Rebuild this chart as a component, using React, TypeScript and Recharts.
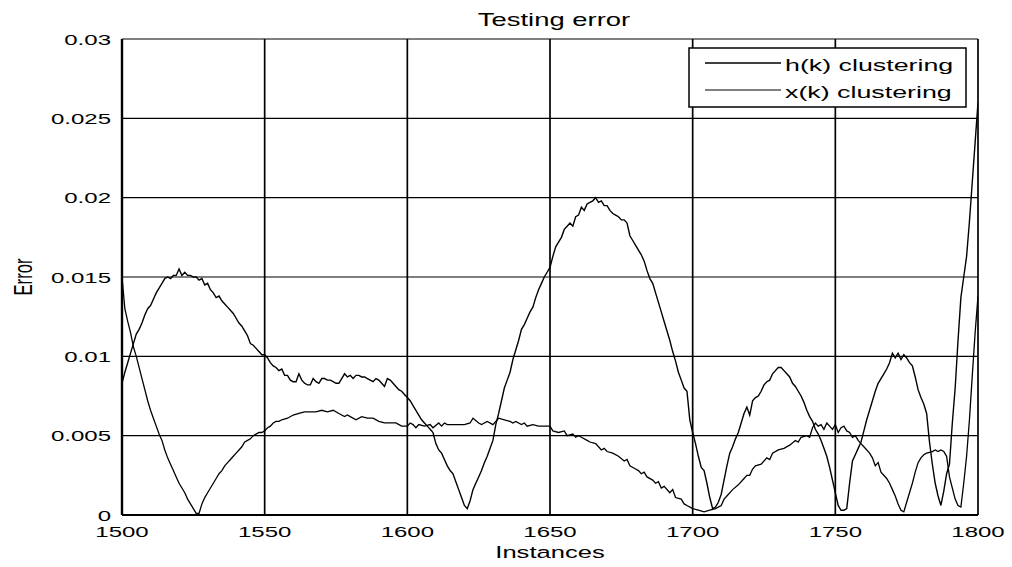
import React from 'react';
import { LineChart, Line, XAxis, YAxis, CartesianGrid, Legend } from 'recharts';

// horizontal stretch of the original figure's text
const SX = 1.55;
const FONT = '"Liberation Sans", Arial, Helvetica, sans-serif';

const instanceTicks = [1500, 1550, 1600, 1650, 1700, 1750, 1800];
const errorTicks = [0, 0.005, 0.01, 0.015, 0.02, 0.025, 0.03];
const seriesNames = ['h(k) clustering', 'x(k) clustering'];

// h(k): one value per instance, starting at 1500
const hStart = 1500;
const hErrors = [
  0.0083, 0.009, 0.0096, 0.0102, 0.0108, 0.0114, 0.0117, 0.0121, 0.0126, 0.013,
  0.0132, 0.0136, 0.014, 0.0143, 0.0146, 0.0149, 0.015, 0.0149, 0.0151, 0.0151,
  0.0155, 0.0151, 0.0153, 0.0151, 0.0151, 0.015, 0.015, 0.0148, 0.0149, 0.0145,
  0.0146, 0.0142, 0.014, 0.0137, 0.0138, 0.0135, 0.0133, 0.0131, 0.0129, 0.0127,
  0.0124, 0.0121, 0.0119, 0.0116, 0.0113, 0.0108, 0.0107, 0.0105, 0.0103, 0.0101,
  0.0101, 0.0099, 0.0096, 0.0094, 0.0093, 0.0091, 0.0092, 0.0088, 0.0088, 0.0085,
  0.0084, 0.0084, 0.0089, 0.0085, 0.0083, 0.0082, 0.0082, 0.0086, 0.0084, 0.0083,
  0.0086, 0.0086, 0.0085, 0.0085, 0.0084, 0.0083, 0.0083, 0.0086, 0.0089, 0.0087,
  0.0088, 0.0086, 0.0088, 0.0088, 0.0087, 0.0087, 0.0086, 0.0085, 0.0084, 0.0086,
  0.0085, 0.0083, 0.0081, 0.0086, 0.0085, 0.0083, 0.0081, 0.0079, 0.0078, 0.0076,
  0.0074, 0.0072, 0.0069, 0.0066, 0.0063, 0.006, 0.0058, 0.0056, 0.0054, 0.0052,
  0.0045, 0.0041, 0.0039, 0.0035, 0.0031, 0.0028, 0.0026, 0.0021, 0.0016, 0.0011,
  0.0006, 0.0004, 0.0009, 0.0016, 0.002, 0.0024, 0.0028, 0.0033, 0.0037, 0.0042,
  0.0047, 0.0057, 0.0064, 0.0072, 0.008, 0.0085, 0.009, 0.0098, 0.0104, 0.011,
  0.0117, 0.012, 0.0124, 0.0128, 0.0131, 0.0137, 0.0142, 0.0146, 0.015, 0.0153,
  0.0156, 0.0163, 0.0169, 0.0172, 0.0175, 0.018, 0.0182, 0.0184, 0.0182, 0.0188,
  0.0189, 0.0194, 0.0192, 0.0196, 0.0197, 0.0198, 0.02, 0.0197, 0.0198, 0.0195,
  0.0195, 0.0192, 0.019, 0.0189, 0.0188, 0.0186, 0.0186, 0.0184, 0.0176, 0.0173,
  0.017, 0.0167, 0.0164, 0.016, 0.0154, 0.0149, 0.0146, 0.014, 0.0134, 0.0128,
  0.0122, 0.0116, 0.011, 0.0103, 0.0097, 0.009, 0.0085, 0.008, 0.0078, 0.006,
  0.0052, 0.0045, 0.0037, 0.003, 0.0028, 0.002, 0.0011, 0.0004, 0.0005, 0.0008,
  0.0013, 0.0022, 0.0031, 0.0039, 0.0043, 0.0048, 0.0052, 0.0058, 0.0064, 0.0068,
  0.0063, 0.0072, 0.0074, 0.0075, 0.0078, 0.0082, 0.0084, 0.0085, 0.0089, 0.0091,
  0.0093, 0.0093, 0.0091, 0.0089, 0.0087, 0.0083, 0.0081, 0.0078, 0.0075, 0.0071,
  0.0066, 0.0062, 0.0059, 0.0054, 0.0051, 0.0047, 0.0042, 0.0037, 0.003, 0.0022,
  0.0014, 0.0006, 0.0003, 0.0003, 0.0004, 0.002, 0.0034, 0.0038, 0.0042, 0.0046,
  0.0053, 0.006, 0.0066, 0.0072, 0.0078, 0.0083, 0.0086, 0.0089, 0.0092, 0.0096,
  0.0102, 0.0099, 0.0102, 0.0098, 0.0101, 0.0099, 0.0096, 0.0094, 0.0087, 0.0079,
  0.0074, 0.007, 0.0064, 0.0046, 0.0032, 0.002, 0.0012, 0.0006, 0.0015, 0.0026,
  0.0032, 0.0058, 0.008, 0.011, 0.0137, 0.015, 0.0163, 0.0185, 0.021, 0.0235,
  0.026,
];

// x(k): read at irregular instances
const xInstances = [
  1500, 1501, 1502, 1503, 1504, 1505, 1506, 1507, 1508, 1509,
  1510, 1511, 1512, 1513, 1514, 1515, 1516, 1517, 1518, 1519,
  1520, 1521, 1522, 1523, 1524, 1525, 1526, 1527, 1528, 1529,
  1530, 1531, 1532, 1533, 1534, 1535, 1536, 1537, 1538, 1539,
  1540, 1541, 1542, 1543, 1544, 1545, 1546, 1547, 1548, 1549,
  1550, 1551, 1552, 1553, 1554, 1555, 1556, 1558, 1560, 1562,
  1564, 1566, 1568, 1570, 1572, 1574, 1576, 1578, 1579, 1580,
  1582, 1584, 1586, 1588, 1590, 1592, 1594, 1596, 1598, 1600,
  1601, 1602, 1603, 1604, 1606, 1608, 1609, 1611, 1612, 1613,
  1614, 1616, 1618, 1620, 1622, 1623, 1625, 1626, 1628, 1630,
  1632, 1634, 1636, 1637, 1638, 1640, 1641, 1642, 1644, 1646,
  1648, 1650, 1651, 1653, 1655, 1656, 1658, 1659, 1660, 1661,
  1663, 1664, 1666, 1667, 1668, 1669, 1670, 1672, 1674, 1676,
  1677, 1678, 1680, 1681, 1682, 1683, 1684, 1686, 1687, 1688,
  1689, 1690, 1692, 1693, 1694, 1696, 1697, 1698, 1700, 1702,
  1704, 1706, 1708, 1710, 1711, 1712, 1714, 1716, 1718, 1719,
  1720, 1721, 1722, 1724, 1726, 1727, 1728, 1730, 1732, 1734,
  1736, 1737, 1738, 1740, 1741, 1742, 1743, 1744, 1745, 1746,
  1747, 1748, 1749, 1750, 1751, 1752, 1753, 1754, 1755, 1756,
  1757, 1758, 1759, 1760, 1762, 1763, 1764, 1765, 1766, 1768,
  1769, 1770, 1771, 1772, 1773, 1774, 1775, 1776, 1777, 1778,
  1779, 1780, 1781, 1782, 1784, 1785, 1786, 1787, 1788, 1789,
  1790, 1791, 1792, 1793, 1794, 1795, 1796, 1797, 1798, 1799,
  1800,
];
const xErrors = [
  0.015, 0.013, 0.0122, 0.0115, 0.0106, 0.01, 0.0093, 0.0086, 0.0079, 0.0072,
  0.0066, 0.0061, 0.0056, 0.0051, 0.0047, 0.0041, 0.0036, 0.0032, 0.0028, 0.0024,
  0.002, 0.0017, 0.0014, 0.001, 0.0007, 0.0004, 0.0001, 0.0001, 0.0007, 0.0011,
  0.0014, 0.0017, 0.002, 0.0023, 0.0026, 0.0028, 0.0031, 0.0033, 0.0035, 0.0037,
  0.0039, 0.0041, 0.0043, 0.0046, 0.0047, 0.0048, 0.005, 0.0051, 0.0052, 0.0052,
  0.0053, 0.0055, 0.0056, 0.0058, 0.0059, 0.0059, 0.006, 0.0061, 0.0063, 0.0064,
  0.0065, 0.0065, 0.0065, 0.0066, 0.0065, 0.0066, 0.0064, 0.0062, 0.0063, 0.0062,
  0.006, 0.0062, 0.0061, 0.0061, 0.0059, 0.0058, 0.0058, 0.0058, 0.0056, 0.0056,
  0.0058, 0.0057, 0.0055, 0.0057, 0.0056, 0.0057, 0.0055, 0.0058, 0.0056, 0.0058,
  0.0057, 0.0057, 0.0057, 0.0057, 0.0058, 0.0061, 0.0058, 0.0057, 0.0059, 0.0057,
  0.0061, 0.006, 0.0059, 0.0058, 0.0059, 0.0057, 0.0058, 0.0056, 0.0057, 0.0056,
  0.0056, 0.0056, 0.0053, 0.0052, 0.0053, 0.005, 0.0051, 0.0049, 0.005, 0.0049,
  0.0047, 0.0046, 0.0045, 0.0043, 0.0041, 0.0042, 0.004, 0.0039, 0.0037, 0.0034,
  0.0035, 0.0031, 0.0029, 0.0028, 0.0026, 0.0027, 0.0024, 0.0022, 0.002, 0.0021,
  0.0017, 0.0018, 0.0014, 0.0016, 0.0011, 0.001, 0.0007, 0.0006, 0.0004, 0.0003,
  0.0002, 0.0003, 0.0004, 0.0006, 0.001, 0.0012, 0.0016, 0.0019, 0.0023, 0.0025,
  0.0025, 0.0029, 0.0031, 0.0032, 0.0036, 0.0035, 0.0039, 0.0041, 0.0042, 0.0044,
  0.0047, 0.0046, 0.0049, 0.005, 0.0049, 0.0055, 0.0058, 0.0056, 0.0057, 0.0054,
  0.0058, 0.0056, 0.0054, 0.0057, 0.0052, 0.0055, 0.0056, 0.0053, 0.0052, 0.0049,
  0.005, 0.0047, 0.0045, 0.0043, 0.0039, 0.0036, 0.0031, 0.0033, 0.0027, 0.0023,
  0.002, 0.0016, 0.0012, 0.0007, 0.0003, 0.0002, 0.0008, 0.0014, 0.002, 0.0027,
  0.0033, 0.0036, 0.0038, 0.0039, 0.004, 0.0041, 0.004, 0.0041, 0.004, 0.0037,
  0.0024, 0.0017, 0.001, 0.0006, 0.0005, 0.002, 0.0037, 0.006, 0.0088, 0.0115,
  0.0138,
];

const hData = hErrors.map((v, i) => ({ k: hStart + i, v }));
const xData = xInstances.map((k, i) => ({ k, v: xErrors[i] }));

const YTick = (props: any) => (
  <text
    transform={`translate(111,${props.y}) scale(${SX},1)`}
    textAnchor="end"
    dy="0.36em"
    fontSize={15.5}
    fontFamily={FONT}
    fill="#000"
  >
    {props.payload.value}
  </text>
);

const XTick = (props: any) => (
  <text
    transform={`translate(${props.x},537) scale(${SX},1)`}
    textAnchor="middle"
    fontSize={15.5}
    fontFamily={FONT}
    fill="#000"
  >
    {props.payload.value}
  </text>
);

const LegendBox = (props: any) => {
  const items = props.payload || [];
  return (
    <svg width={279} height={61} style={{ display: 'block', overflow: 'visible' }}>
      <rect x={1} y={1} width={277} height={59} fill="#fff" stroke="#000" strokeWidth={1.5} />
      {items.map((p: any, i: number) => (
        <g key={p.value}>
          <line x1={17} x2={93} y1={16 + 27 * i} y2={16 + 27 * i} stroke="#000" strokeWidth={i === 0 ? 1.6 : 1.2} />
          <text
            transform={`translate(97,${23.5 + 27 * i}) scale(${SX},1)`}
            fontSize={17.3}
            fontFamily={FONT}
            fill="#000"
          >
            {p.value}
          </text>
        </g>
      ))}
    </svg>
  );
};

export default function App() {
  return (
    <div style={{ position: 'absolute', left: 0, top: 0, width: 1012, height: 567, background: '#fff' }}>
      <LineChart width={1012} height={567} margin={{ top: 39, right: 34, bottom: 0, left: 0 }}>
        <CartesianGrid vertical={false} stroke="#000" strokeWidth={1.2} />
        <CartesianGrid horizontal={false} stroke="#000" strokeWidth={1.7} />
        <XAxis
          dataKey="k"
          type="number"
          domain={[1500, 1800]}
          ticks={instanceTicks}
          allowDataOverflow
          height={52}
          tickLine={false}
          axisLine={{ stroke: '#000', strokeWidth: 2 }}
          tick={<XTick />}
        />
        <YAxis
          type="number"
          domain={[0, 0.03]}
          ticks={errorTicks}
          allowDataOverflow
          width={122}
          tickLine={false}
          axisLine={{ stroke: '#000', strokeWidth: 2.4 }}
          tick={<YTick />}
        />
        <Legend
          layout="vertical"
          align="center"
          verticalAlign="middle"
          content={<LegendBox />}
          wrapperStyle={{ left: 688, top: 47, width: 279, height: 61 }}
        />
        <Line
          data={hData}
          dataKey="v"
          name={seriesNames[0]}
          type="linear"
          stroke="#000"
          strokeWidth={1.4}
          dot={false}
          isAnimationActive={false}
        />
        <Line
          data={xData}
          dataKey="v"
          name={seriesNames[1]}
          type="linear"
          stroke="#000"
          strokeWidth={1.3}
          dot={false}
          isAnimationActive={false}
        />
      </LineChart>
      <svg
        width={1012}
        height={567}
        style={{ position: 'absolute', left: 0, top: 0, pointerEvents: 'none' }}
      >
        <text transform={`translate(554,26) scale(${SX},1)`} textAnchor="middle" fontSize={17.7} fontFamily={FONT} fill="#000">
          Testing error
        </text>
        <text transform={`translate(550,558) scale(${SX},1)`} textAnchor="middle" fontSize={16.5} fontFamily={FONT} fill="#000">
          Instances
        </text>
        <text
          transform={`translate(23,277) scale(${SX},1) rotate(-90)`}
          textAnchor="middle"
          dy="0.35em"
          fontSize={16.7}
          fontFamily={FONT}
          fill="#000"
        >
          Error
        </text>
      </svg>
    </div>
  );
}
